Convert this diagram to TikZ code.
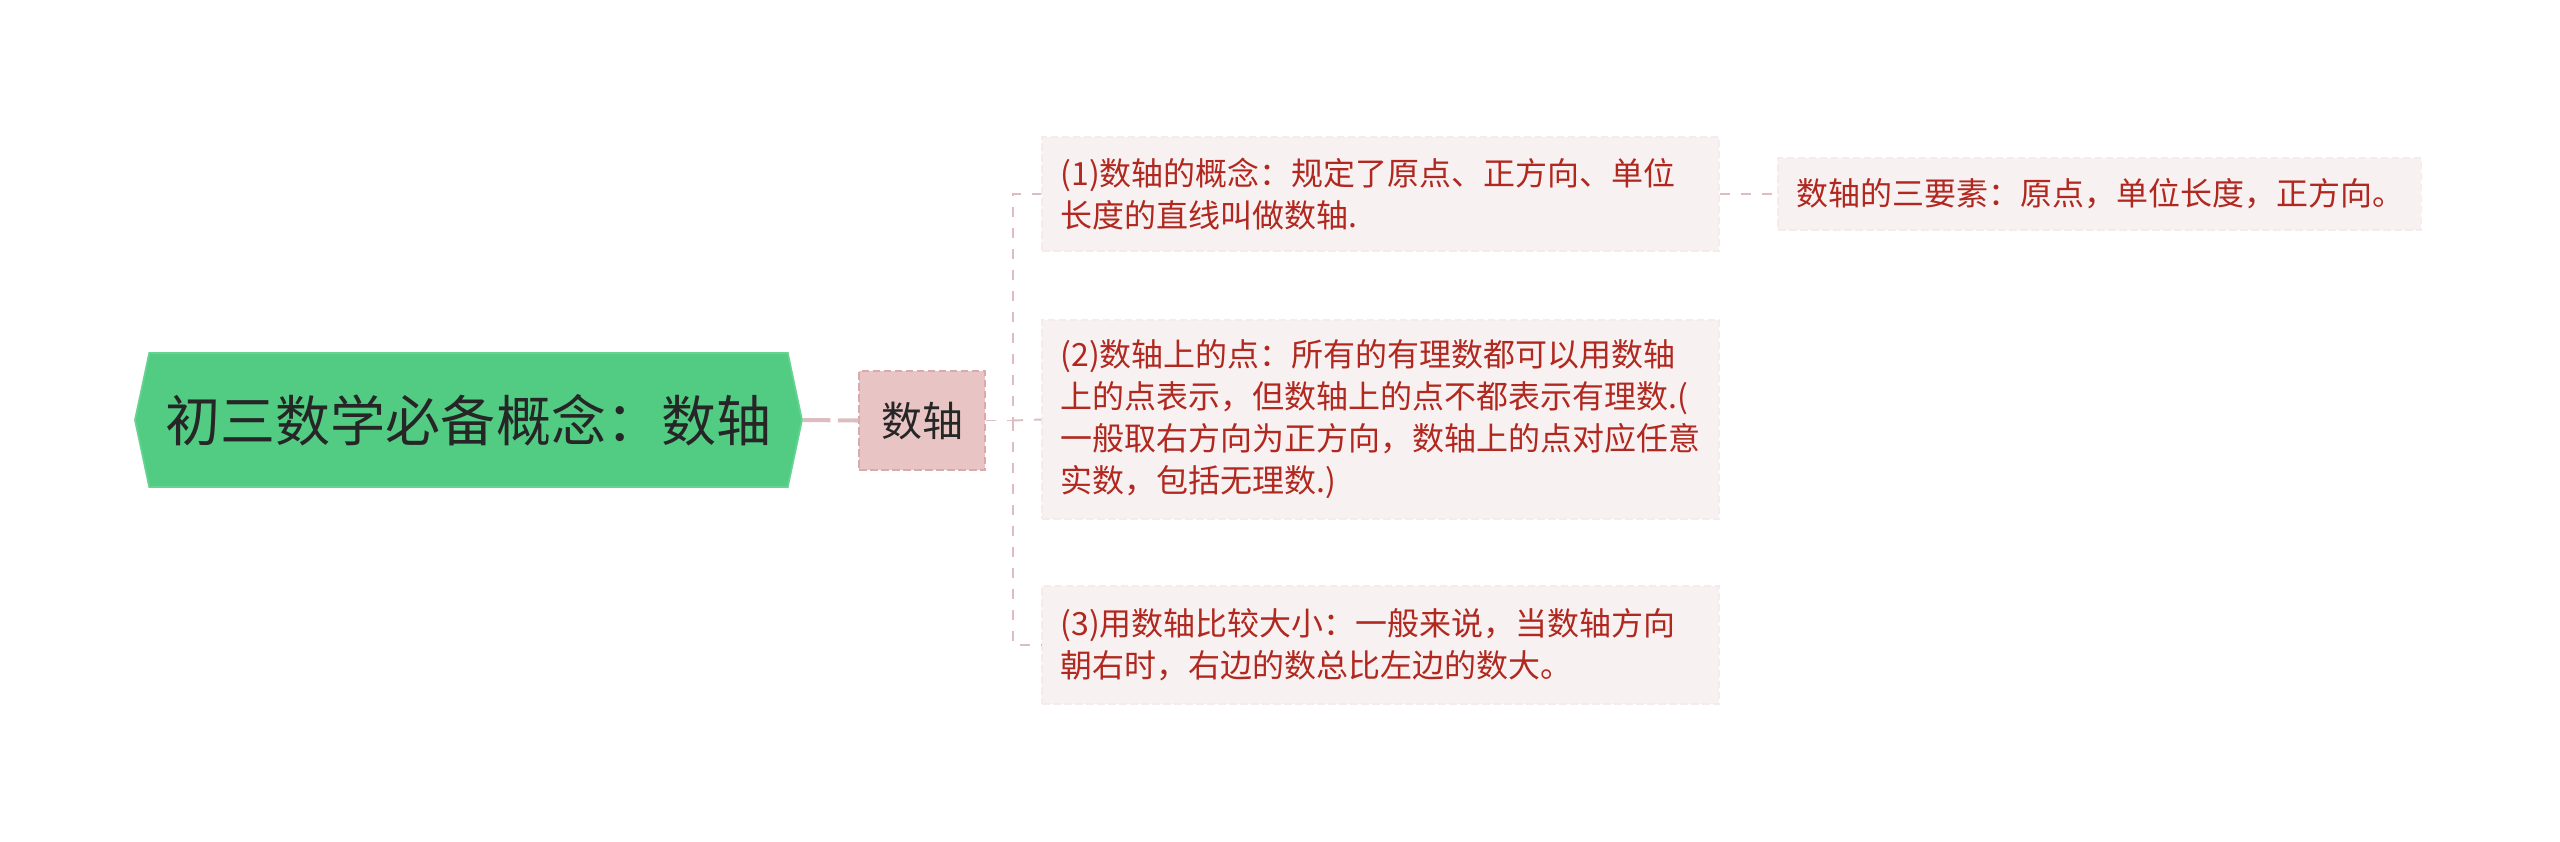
\documentclass[tikz,border=0pt]{standalone}
\usepackage{fontspec}
\setmainfont{Noto Sans CJK SC}
\usetikzlibrary{shapes.symbols}
\definecolor{rootgreen}{HTML}{52CC83}
\definecolor{rootline}{HTML}{66D392}
\definecolor{topicpink}{HTML}{E8C4C4}
\definecolor{topicline}{HTML}{D8AAAC}
\definecolor{leaffill}{HTML}{F8F1F1}
\definecolor{leafline}{HTML}{F5EBEB}
\definecolor{leaftext}{HTML}{B0281F}
\definecolor{linkpink}{HTML}{DDBDC0}

\begin{document}
\begin{tikzpicture}
		\useasboundingbox (0,0) rectangle (51.2,-16.82);
		\tikzset{EdgeStyle/.style = {draw=linkpink,line width=1.1pt,dash pattern=on 0.2cm off 0.22cm}}
		% root
		{
			\tikzset{RootStyle/.style = {signal,signal to=west and east,signal pointer angle=156,fill=rootgreen,draw=rootline,line width=1pt,minimum width=13.34cm,minimum height=2.68cm,inner sep=0pt,text=black!85,font=\fontsize{31.3}{38}\selectfont}}
			\node[RootStyle] (root) at (9.37,-8.40) {初三数学必备概念：数轴};
		}
		% topic
		{
			\tikzset{TopicStyle/.style = {draw=topicline,fill=topicpink,line width=0.8pt,dash pattern=on 0.15cm off 0.07cm,minimum width=2.52cm,minimum height=1.98cm,inner sep=0pt,text=black!85,font=\fontsize{23.3}{28}\selectfont}}
			\node[TopicStyle] (sub) at (18.44,-8.41) {数轴};
		}
		% leaves
		{
			\tikzset{LeafStyle/.style = {draw=leafline,fill=leaffill,line width=0.6pt,dash pattern=on 0.15cm off 0.07cm,text width=12.8cm,inner xsep=0.37cm,inner ysep=0pt,align=left,text=leaftext,font=\fontsize{18.2}{23.9}\selectfont}}
			\node[LeafStyle,minimum height=2.28cm] (b1) at (27.61,-3.88) {(1)数轴的概念：规定了原点、正方向、单位\\长度的直线叫做数轴.};
			\node[LeafStyle,minimum height=3.98cm] (b2) at (27.61,-8.39) {(2)数轴上的点：所有的有理数都可以用数轴\\上的点表示，但数轴上的点不都表示有理数.(\\一般取右方向为正方向，数轴上的点对应任意\\实数，包括无理数.)};
			\node[LeafStyle,minimum height=2.36cm] (b3) at (27.61,-12.90) {(3)用数轴比较大小：一般来说，当数轴方向\\朝右时，右边的数总比左边的数大。};
			\node[LeafStyle,text width=12.12cm,minimum height=1.44cm] (b4) at (41.99,-3.88) {数轴的三要素：原点，单位长度，正方向。};
		}
		\coordinate (fork) at (20.26,-8.41);
		% links
		\draw[EdgeStyle,line width=2.3pt,dash pattern=on 0.55cm off 0.15cm] (root.east) -- (sub.west);
		\draw[EdgeStyle] (sub.east) -- (fork) |- (b1.west);
		\draw[EdgeStyle] (fork) -- (b2.west);
		\draw[EdgeStyle] (fork) |- (b3.west);
		\draw[EdgeStyle] (b1.east) -- (b4.west);
\end{tikzpicture}
\end{document}
